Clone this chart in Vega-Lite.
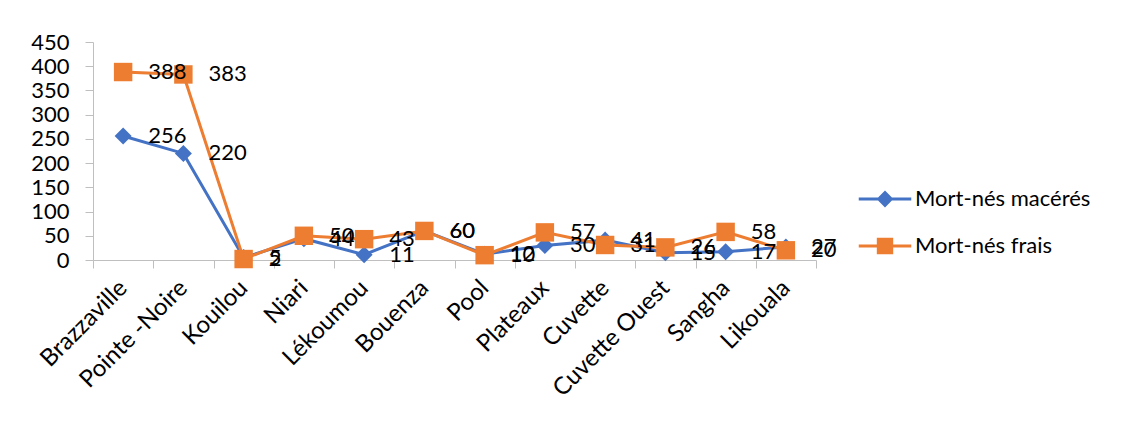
{
  "$schema": "https://vega.github.io/schema/vega-lite/v6.json",
  "width": 723,
  "height": 218,
  "autosize": {"type": "none"},
  "padding": {"left": 93, "top": 42, "right": 309, "bottom": 164},
  "background": "white",
  "config": {
    "font": "Lato",
    "view": {"stroke": null},
    "axis": {
      "labelFont": "Lato",
      "labelFontSize": 22,
      "labelColor": "#000000",
      "domainColor": "#bfbfbf",
      "domainWidth": 1,
      "tickColor": "#bfbfbf",
      "tickWidth": 1,
      "tickSize": 8,
      "grid": false,
      "title": null
    }
  },
  "data": {
    "values": [
      {"region": "Brazzaville", "serie": "Mort-nés macérés", "n": 256},
      {"region": "Pointe -Noire", "serie": "Mort-nés macérés", "n": 220},
      {"region": "Kouilou", "serie": "Mort-nés macérés", "n": 5},
      {"region": "Niari", "serie": "Mort-nés macérés", "n": 44},
      {"region": "Lékoumou", "serie": "Mort-nés macérés", "n": 11},
      {"region": "Bouenza", "serie": "Mort-nés macérés", "n": 60},
      {"region": "Pool", "serie": "Mort-nés macérés", "n": 12},
      {"region": "Plateaux", "serie": "Mort-nés macérés", "n": 30},
      {"region": "Cuvette", "serie": "Mort-nés macérés", "n": 41},
      {"region": "Cuvette Ouest", "serie": "Mort-nés macérés", "n": 15},
      {"region": "Sangha", "serie": "Mort-nés macérés", "n": 17},
      {"region": "Likouala", "serie": "Mort-nés macérés", "n": 27},
      {"region": "Brazzaville", "serie": "Mort-nés frais", "n": 388},
      {"region": "Pointe -Noire", "serie": "Mort-nés frais", "n": 383},
      {"region": "Kouilou", "serie": "Mort-nés frais", "n": 2},
      {"region": "Niari", "serie": "Mort-nés frais", "n": 50},
      {"region": "Lékoumou", "serie": "Mort-nés frais", "n": 43},
      {"region": "Bouenza", "serie": "Mort-nés frais", "n": 60},
      {"region": "Pool", "serie": "Mort-nés frais", "n": 10},
      {"region": "Plateaux", "serie": "Mort-nés frais", "n": 57},
      {"region": "Cuvette", "serie": "Mort-nés frais", "n": 31},
      {"region": "Cuvette Ouest", "serie": "Mort-nés frais", "n": 26},
      {"region": "Sangha", "serie": "Mort-nés frais", "n": 58},
      {"region": "Likouala", "serie": "Mort-nés frais", "n": 20}
    ]
  },
  "encoding": {
    "x": {
      "field": "region",
      "type": "nominal",
      "sort": null,
      "scale": {"type": "band", "paddingInner": 0, "paddingOuter": 0},
      "axis": {"labelAngle": -45, "labelAlign": "right", "labelBaseline": "middle", "tickBand": "extent", "labelPadding": 16, "labelFontSize": 24}
    },
    "y": {
      "field": "n",
      "type": "quantitative",
      "scale": {"domain": [0, 450], "nice": false, "zero": true},
      "axis": {"values": [0, 50, 100, 150, 200, 250, 300, 350, 400, 450], "labelPadding": 16}
    }
  },
  "layer": [
    {
      "mark": {"type": "line", "strokeWidth": 3},
      "encoding": {
        "detail": {"field": "serie"},
        "color": {
          "field": "serie",
          "type": "nominal",
          "sort": null,
          "scale": {"domain": ["Mort-nés macérés", "Mort-nés frais"], "range": ["#4472c4", "#ed7d31"]},
          "legend": {
            "title": null,
            "orient": "none",
            "legendX": 781,
            "legendY": 146,
            "padding": 0,
            "labelFont": "Lato",
            "labelFontSize": 22,
            "labelColor": "#000000",
            "labelLimit": 400,
            "labelOffset": 19,
            "symbolSize": 441,
            "rowPadding": 25,
            "encode": {
              "symbols": {
                "update": {
                  "shape": {"signal": "datum.value === 'Mort-nés macérés' ? 'M-2.5,-0.14L2.5,-0.14L2.5,0.14L-2.5,0.14Z M0,-0.8L0.8,0L0,0.8L-0.8,0Z' : 'M-2.5,-0.14L2.5,-0.14L2.5,0.14L-2.5,0.14Z M-0.78,-0.78L0.78,-0.78L0.78,0.78L-0.78,0.78Z'"},
                  "size": {"value": 441},
                  "fill": {"signal": "scale('color', datum.value)"},
                  "fillOpacity": {"value": 1},
                  "opacity": {"value": 1},
                  "strokeWidth": {"value": 0}
                }
              }
            }
          }
        }
      }
    },
    {
      "transform": [{"filter": "datum.serie === 'Mort-nés macérés'"}],
      "mark": {"type": "point", "filled": true, "opacity": 1, "shape": "diamond", "size": 290},
      "encoding": {
        "color": {"field": "serie", "type": "nominal", "sort": null, "legend": null}
      }
    },
    {
      "transform": [{"filter": "datum.serie === 'Mort-nés frais'"}],
      "mark": {"type": "point", "filled": true, "opacity": 1, "shape": "square", "size": 340},
      "encoding": {
        "color": {"field": "serie", "type": "nominal", "sort": null, "legend": null}
      }
    },
    {
      "mark": {"type": "text", "align": "left", "baseline": "middle", "dx": 25, "fontSize": 22, "font": "Lato", "color": "#000000"},
      "encoding": {
        "text": {"field": "n", "type": "quantitative"}
      }
    }
  ]
}
